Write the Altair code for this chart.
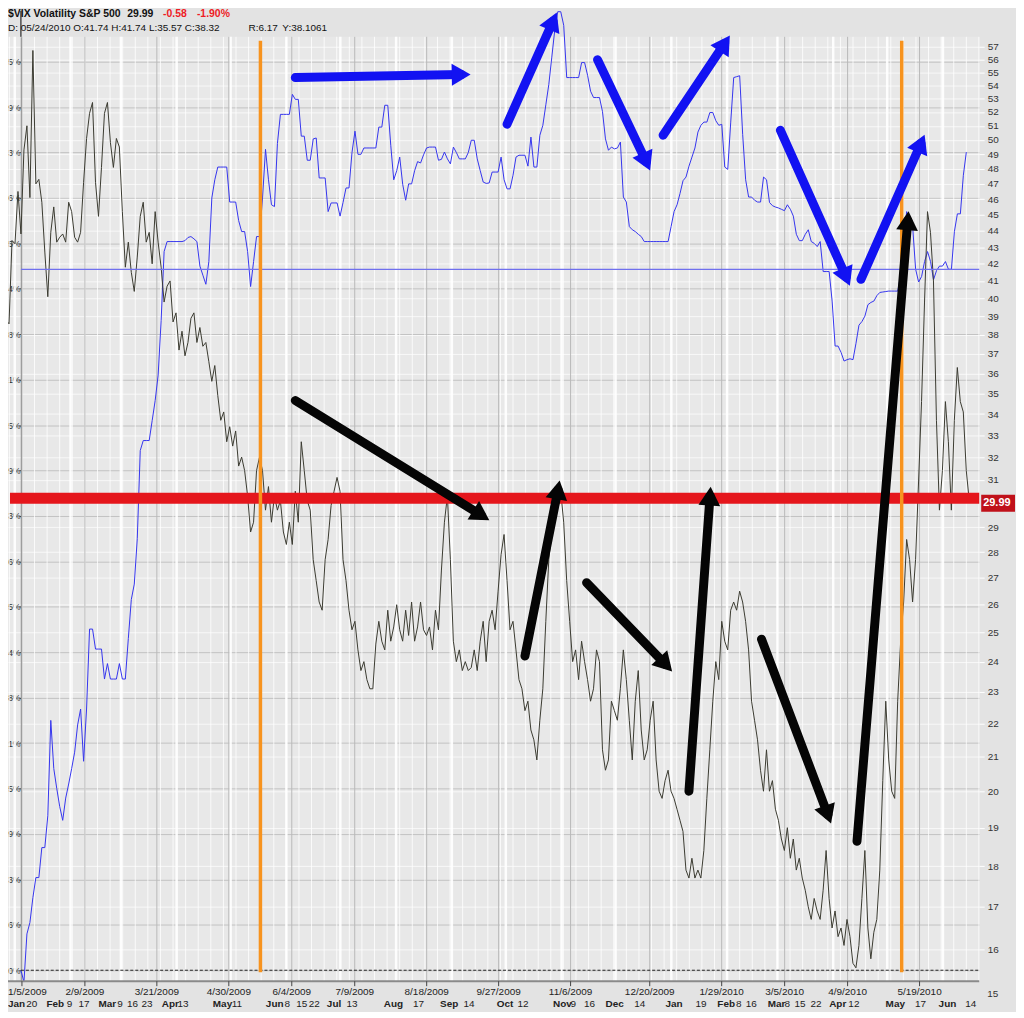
import altair as alt
import pandas as pd

W, H = 977, 950

# ---------------- data ----------------
# VIX daily close line (black), evenly sampled between these two timestamps
VIX_START, VIX_END = "2008-12-27 04:00", "2010-06-15 15:00"
VIX = [38.8, 38.6, 43.4, 43.2, 46.5, 43.8, 49.3, 51.0, 46.1, 56.7, 47.0, 47.3, 45.8, 42.7, 40.1, 43.9,
       45.5, 43.3, 43.6, 43.8, 43.3, 45.8, 45.2, 43.6, 43.3, 43.9, 47.1, 50.1, 51.9, 52.7, 47.1, 44.9,
       48.1, 51.9, 52.7, 49.8, 48.1, 50.1, 49.5, 45.2, 41.8, 43.3, 41.5, 40.4, 42.4, 44.9, 45.8, 43.3,
       43.9, 42.0, 45.2, 43.3, 41.8, 39.8, 40.7, 41.0, 38.7, 39.2, 37.2, 38.2, 36.9, 37.6, 38.9, 39.2,
       37.6, 38.4, 37.4, 37.6, 36.6, 35.6, 36.4, 34.9, 33.7, 34.1, 32.7, 33.4, 32.5, 33.2, 31.6, 32.0,
       31.4, 30.3, 28.8, 29.2, 31.4, 32.0, 31.4, 29.7, 30.7, 29.2, 30.3, 29.7, 30.1, 28.8, 28.3, 29.2,
       28.3, 30.5, 29.2, 32.7, 31.4, 30.1, 29.7, 27.7, 26.9, 26.1, 25.8, 27.7, 28.5, 29.9, 30.5, 31.1,
       30.5, 27.7, 26.9, 25.8, 25.1, 25.4, 24.4, 23.7, 24.0, 23.4, 23.1, 23.1, 24.6, 25.4, 24.7, 24.4,
       25.8, 24.7, 25.2, 26.0, 25.1, 24.7, 25.8, 24.9, 26.1, 24.7, 25.2, 26.1, 25.1, 24.9, 25.2, 24.4,
       25.8, 25.1, 27.3, 29.2, 30.3, 27.7, 24.7, 24.0, 24.4, 23.7, 24.0, 23.7, 23.8, 24.4, 23.7, 24.7,
       25.4, 24.0, 25.4, 25.8, 25.1, 26.5, 27.9, 28.7, 26.9, 25.1, 25.4, 24.4, 23.4, 23.1, 22.4, 22.7,
       21.8, 21.5, 20.9, 22.1, 23.1, 25.4, 27.7, 28.8, 29.2, 29.9, 30.5, 29.2, 26.9, 25.4, 24.0, 24.4,
       23.4, 24.7, 24.0, 23.4, 22.7, 23.1, 24.4, 24.0, 21.2, 20.6, 20.9, 22.7, 22.4, 22.1, 23.1, 24.4,
       23.4, 22.1, 20.9, 22.7, 23.7, 21.8, 20.9, 21.2, 22.1, 22.7, 20.9, 20.0, 19.8, 20.3, 20.6, 20.0,
       19.8, 19.5, 19.2, 18.9, 17.9, 17.7, 18.2, 17.7, 17.9, 17.7, 18.4, 19.8, 21.2, 22.7, 24.0, 23.4,
       25.4, 24.7, 24.4, 25.8, 26.1, 25.8, 26.5, 26.1, 25.4, 24.4, 22.7, 22.1, 21.5, 20.6, 20.0, 21.2,
       20.0, 20.3, 19.5, 19.2, 18.7, 18.4, 19.0, 18.2, 18.7, 17.9, 18.2, 17.7, 17.4, 17.0, 16.7, 17.2,
       16.9, 16.7, 17.4, 18.4, 17.2, 16.5, 16.9, 16.3, 16.5, 16.1, 16.7, 16.3, 15.7, 15.6, 16.1, 17.2,
       18.4, 16.5, 15.8, 16.4, 16.7, 17.9, 20.3, 22.7, 20.9, 20.0, 19.8, 22.7, 24.7, 26.1, 28.5, 27.7,
       26.1, 27.7, 30.9, 34.6, 39.8, 45.2, 43.9, 41.0, 33.7, 29.7, 31.4, 34.6, 32.7, 29.7, 33.7, 36.3,
       34.6, 34.1, 31.4, 30.1]

# comparison line (blue, left percent axis), in left-axis tick steps
BLUE_START, BLUE_END = "2009-01-04 11:00", "2010-06-14 00:00"
BLUE = [0.0, -0.26, 0.8, 1.05, 1.6, 2.04, 2.04, 2.7, 2.7, 3.4, 5.5, 4.44, 4.0, 3.6, 3.3, 3.79,
        4.1, 4.44, 4.8, 5.4, 5.75, 4.6, 5.75, 7.51, 7.51, 7.07, 7.07, 7.07, 6.41, 6.75, 6.41, 6.41,
        6.41, 6.75, 6.41, 6.41, 7.3, 8.16, 8.5, 9.5, 11.44, 11.66, 11.66, 11.66, 12.1, 12.54, 13.1, 14.3,
        15.82, 16.04, 16.04, 16.04, 16.04, 16.04, 16.04, 16.06, 16.13, 16.15, 16.1, 16.04, 15.5, 15.3, 15.1, 15.6,
        17.0, 17.4, 17.68, 17.68, 17.68, 17.68, 16.91, 16.91, 16.91, 16.5, 16.26, 16.26, 15.82, 15.05, 15.6, 16.15,
        16.15, 17.0, 18.07, 17.4, 16.85, 16.81, 18.2, 18.84, 18.84, 18.84, 18.84, 19.28, 19.17, 19.17, 18.36, 18.36,
        17.83, 17.83, 18.3, 18.32, 17.44, 17.44, 17.44, 16.7, 16.89, 16.89, 16.89, 16.6, 16.9, 17.22, 17.22, 18.0,
        18.47, 17.96, 17.96, 18.1, 18.1, 18.1, 18.1, 18.1, 18.56, 18.56, 19.04, 19.04, 18.16, 17.4, 17.6, 17.9,
        17.3, 16.95, 17.31, 17.31, 17.6, 17.8, 17.77, 17.95, 18.1, 18.12, 18.12, 18.12, 17.83, 17.85, 18.01, 17.86,
        17.75, 18.12, 18.0, 17.86, 17.86, 17.86, 18.0, 18.27, 18.27, 17.86, 17.6, 17.35, 17.32, 17.33, 17.57, 17.57,
        17.57, 17.9, 17.4, 17.2, 17.2, 17.5, 17.9, 17.94, 17.94, 17.94, 17.7, 18.34, 17.68, 17.68, 18.38, 18.6,
        19.05, 19.5, 20.1, 20.7, 21.1, 21.1, 20.8, 19.65, 19.65, 19.65, 19.65, 19.65, 19.98, 19.98, 19.7, 19.35,
        19.21, 19.21, 19.21, 18.9, 18.3, 18.05, 18.12, 18.08, 18.1, 18.23, 17.02, 16.91, 16.37, 16.3, 16.26, 16.2,
        16.15, 16.04, 16.04, 16.04, 16.04, 16.04, 16.04, 16.04, 16.04, 16.04, 16.37, 16.7, 16.85, 17.1, 17.38, 17.46,
        17.7, 17.9, 18.1, 18.45, 18.6, 18.67, 18.67, 18.88, 18.88, 18.7, 18.6, 18.62, 17.68, 17.63, 18.67, 19.65,
        19.67, 19.69, 18.4, 17.4, 17.02, 17.02, 16.95, 16.91, 16.91, 17.46, 17.4, 16.9, 16.83, 16.8, 16.78, 16.75,
        16.72, 16.85, 16.75, 16.6, 16.2, 16.06, 16.06, 16.2, 16.3, 16.04, 16.0, 15.93, 16.04, 15.38, 15.38, 15.38,
        14.73, 13.74, 13.74, 13.6, 13.41, 13.44, 13.46, 13.44, 13.8, 14.2, 14.28, 14.4, 14.65, 14.7, 14.73, 14.85,
        14.92, 14.93, 14.94, 14.95, 14.95, 14.95, 14.95, 15.3, 16.1, 16.7, 16.37, 16.37, 15.43, 15.15, 15.27, 15.6,
        15.82, 15.6, 15.2, 15.4, 15.5, 15.5, 15.6, 15.43, 15.43, 16.26, 16.65, 16.65, 17.5, 18.01]

LEFT_TICK_LABELS = ["0%", "6%", "3%", "9%", "5%", "1%", "8%", "4%", "5%", "6%", "3%",
                    "9%", "5%", "1%", "8%", "4%", "5%", "6%", "3%", "9%", "5%"]
RIGHT_TICKS = [16, 17, 18, 19, 20, 21, 22, 23, 24, 25, 26, 27, 28, 29, 31, 32, 33, 34, 35, 36,
               37, 38, 39, 40, 41, 42, 43, 44, 45, 46, 47, 48, 49, 50, 51, 52, 53, 54, 55, 56, 57]
MAJOR_LABELS = ["1/5/2009", "2/9/2009", "3/21/2009", "4/30/2009", "6/4/2009", "7/9/2009",
                "8/18/2009", "9/27/2009", "11/6/2009", "12/20/2009", "1/29/2010", "3/5/2010",
                "4/9/2010", "5/19/2010"]
ROW2_TEXT = ["Jan", "20", "Feb", "9", "17", "Mar", "9", "16", "23", "Apr", "13", "May", "11", "Jun", "8",
             "15", "22", "Jul", "13", "Aug", "17", "Sep", "14", "Oct", "12", "Nov", "9", "16", "Dec", "14",
             "Jan", "19", "Feb", "8", "16", "Mar", "8", "15", "22", "Apr", "12", "May", "17", "Jun", "14"]
ROW2_DATE = ["2008-12-30", "2009-01-10", "2009-01-23", "2009-01-31", "2009-02-08", "2009-02-21",
             "2009-02-28", "2009-03-07", "2009-03-15", "2009-03-28", "2009-04-04", "2009-04-26",
             "2009-05-04", "2009-05-25", "2009-06-01", "2009-06-09", "2009-06-16", "2009-06-27",
             "2009-07-07", "2009-07-30", "2009-08-13", "2009-08-30", "2009-09-10", "2009-09-30",
             "2009-10-10", "2009-11-01", "2009-11-07", "2009-11-16", "2009-11-30", "2009-12-14",
             "2010-01-02", "2010-01-17", "2010-01-31", "2010-02-07", "2010-02-14", "2010-02-28",
             "2010-03-06", "2010-03-13", "2010-03-22", "2010-04-03", "2010-04-12", "2010-05-05",
             "2010-05-19", "2010-06-03", "2010-06-16"]

ORANGE_DATES = ["2009-05-17T14:00", "2010-05-09T02:00"]
RED_LEVEL = 30.2
BLUE_LEVEL = 15.43
LAST_VALUE = 29.99

# hand-drawn arrows (tail -> head), on the VIX scale
ARROW_KIND = ["blue"] * 6 + ["black"] * 6
TAIL_DATE = ["2009-06-05T23:00", "2009-10-01T16:00", "2009-11-20T23:00", "2009-12-27T10:00",
             "2010-03-02T15:00", "2010-04-16T10:00", "2009-06-05T23:00", "2009-10-11T15:00",
             "2009-11-14T21:00", "2010-01-10T19:00", "2010-02-20T03:00", "2010-04-14T05:00"]
TAIL_VIX = [54.58, 51.11, 55.97, 50.33, 50.68, 41.09, 34.65, 24.19, 26.82, 20.0, 24.77, 18.64]
HEAD_DATE = ["2009-09-06T04:00", "2009-10-27T06:00", "2009-12-18T02:00", "2010-01-30T16:00",
             "2010-04-08T05:00", "2010-05-19T18:00", "2009-09-17T09:00", "2009-10-30T00:00",
             "2009-12-28T21:00", "2010-01-22T12:00", "2010-03-29T00:00", "2010-05-12T11:00"]
HEAD_VIX = [54.81, 59.09, 48.48, 57.27, 41.22, 49.75, 29.49, 30.56, 23.90, 30.29, 19.35, 44.63]
HEAD_ANGLE = [89, 23, 156, 33, 157, 23, 122, 10, 137, 4, 160, 4.5]

# ---------------- frames ----------------
vix_df = pd.DataFrame({"date": pd.date_range(VIX_START, VIX_END, periods=len(VIX)), "vix": VIX})
blue_df = pd.DataFrame({"date": pd.date_range(BLUE_START, BLUE_END, periods=len(BLUE)), "pct": BLUE})
arrow_df = pd.DataFrame({"kind": ARROW_KIND, "t": pd.to_datetime(TAIL_DATE), "tv": TAIL_VIX,
                         "h": pd.to_datetime(HEAD_DATE), "hv": HEAD_VIX, "ang": HEAD_ANGLE})
row2_df = pd.DataFrame({"txt": ROW2_TEXT, "date": pd.to_datetime(ROW2_DATE) + pd.Timedelta(hours=12)})
row2_df["bold"] = row2_df["txt"].str.isalpha()
major_df = pd.DataFrame({"txt": MAJOR_LABELS, "date": pd.to_datetime(MAJOR_LABELS, format="%m/%d/%Y")})
week_df = pd.DataFrame({"date": pd.date_range("2008-12-29", "2010-06-21", freq="W-MON")})
month_df = pd.DataFrame({"date": pd.date_range("2009-01-01", "2010-06-01", freq="MS")})
orange_df = pd.DataFrame({"date": pd.to_datetime(ORANGE_DATES)})

XS = alt.Scale(domain=[alt.DateTime(year=2008, month=12, date=28, hours=6),
                       alt.DateTime(year=2010, month=6, date=21, hours=4)], nice=False)
VS = alt.Scale(type="log", domain=[15.31, 57.8], nice=False)
BS = alt.Scale(domain=[-0.241, 20.547], nice=False, zero=False)
FONT = "Liberation Sans"
AX = 13  # left axis line position inside the plot

def xnone(field="date:T"):
    return alt.X(field, scale=XS, axis=None)

# grid lines
weeks = alt.Chart(week_df).mark_rule(color="#ffffff", strokeWidth=1, opacity=0.8).encode(x=xnone())
months = alt.Chart(month_df).mark_rule(color="#ffffff", strokeWidth=2.5, opacity=0.9).encode(x=xnone())
major_grid = alt.Chart(major_df).mark_rule(color="#b8b8b8", strokeWidth=1).encode(x=xnone())

# blue line with left axis
left_labels = "[" + ",".join("'%s'" % s for s in LEFT_TICK_LABELS) + "][datum.value]"
blue_line = alt.Chart(blue_df).mark_line(color="#3434ee", strokeWidth=1).encode(
    x=xnone(),
    y=alt.Y("pct:Q", scale=BS, axis=alt.Axis(
        orient="left", offset=-AX, values=list(range(21)), labelExpr=left_labels, title=None,
        domainColor="#000000", domainWidth=1, tickColor="#555555", tickSize=2, labelPadding=-1,
        labelFontSize=8.5, labelColor="#333333", labelFont=FONT,
        grid=True, gridColor="#c2c2c2", gridWidth=1)),
)

# VIX line with right axis
vix_line = alt.Chart(vix_df).mark_line(color="#3a3a30", strokeWidth=1).encode(
    x=xnone(),
    y=alt.Y("vix:Q", scale=VS, axis=alt.Axis(
        orient="right", values=RIGHT_TICKS, title=None, domain=False, tickColor="#ffffff",
        tickSize=5, labelPadding=3, labelFontSize=10, labelColor="#333333", labelFont=FONT,
        grid=True, gridColor="#ffffff", gridWidth=1, gridOpacity=0.7, labelOverlap=False)),
)

# bottom date axis (drawn by hand: domain, ticks, labels)
x_domain = alt.Chart(pd.DataFrame({"a": [0]})).mark_rule(color="#8a8a8a", strokeWidth=2).encode(
    x=alt.value(0), x2=alt.value(W), y=alt.value(H))
x_ticks = alt.Chart(major_df).mark_rule(color="#444444", strokeWidth=1).encode(
    x=xnone(), y=alt.value(H), y2=alt.value(H + 5))
x_label_first = alt.Chart(major_df.iloc[:1]).mark_text(
    baseline="middle", align="left", dx=-14, fontSize=10, color="#222222", font=FONT).encode(
    x=xnone(), y=alt.value(H + 11), text="txt:N")
x_labels = alt.Chart(major_df.iloc[1:]).mark_text(
    baseline="middle", fontSize=10, color="#222222", font=FONT).encode(
    x=xnone(), y=alt.value(H + 11), text="txt:N")

blue_level = alt.Chart(pd.DataFrame({"v": [BLUE_LEVEL]})).mark_rule(color="#7070ee", strokeWidth=1.3).encode(
    y=alt.Y("v:Q", scale=BS, axis=None), x=alt.value(AX), x2=alt.value(W))
zero_line = alt.Chart(pd.DataFrame({"v": [0.0]})).mark_rule(color="#222222", strokeWidth=1, strokeDash=[3, 2]).encode(
    y=alt.Y("v:Q", scale=BS, axis=None), x=alt.value(AX), x2=alt.value(W))

red_band = alt.Chart(pd.DataFrame({"v": [RED_LEVEL]})).mark_rule(color="#e5161c", strokeWidth=11).encode(
    y=alt.Y("v:Q", scale=VS, axis=None), x=alt.value(2), x2=alt.value(W))

orange = alt.Chart(orange_df).mark_rule(color="#f7931e", strokeWidth=3.5).encode(
    x=xnone(), y=alt.value(4), y2=alt.value(941))

axis_top = alt.Chart(pd.DataFrame({"a": [0]})).mark_rule(color="#000000", strokeWidth=1).encode(
    x=alt.value(AX), y=alt.value(-26), y2=alt.value(0))

arrow_colors = alt.Scale(domain=["blue", "black"], range=["#1212f2", "#050505"])
shafts = alt.Chart(arrow_df).mark_rule(strokeWidth=9, strokeCap="round").encode(
    x=xnone("t:T"), x2="h:T",
    y=alt.Y("tv:Q", scale=VS, axis=None), y2="hv:Q",
    color=alt.Color("kind:N", scale=arrow_colors, legend=None))
heads = alt.Chart(arrow_df).mark_point(shape="triangle-up", filled=True, size=480, opacity=1).encode(
    x=xnone("h:T"), y=alt.Y("hv:Q", scale=VS, axis=None),
    angle=alt.Angle("ang:Q", scale=None),
    color=alt.Color("kind:N", scale=arrow_colors, legend=None))

# last value box on the right axis
last_df = pd.DataFrame({"v": [LAST_VALUE], "hi": [LAST_VALUE * 1.012], "lo": [LAST_VALUE / 1.012],
                        "txt": ["%.2f" % LAST_VALUE]})
last_box = alt.Chart(last_df).mark_rect(color="#c0111a").encode(
    y=alt.Y("hi:Q", scale=VS, axis=None), y2="lo:Q", x=alt.value(W + 2), x2=alt.value(W + 36))
last_txt = alt.Chart(last_df).mark_text(align="left", baseline="middle", color="#ffffff",
                                        fontWeight="bold", fontSize=11, font=FONT).encode(
    y=alt.Y("v:Q", scale=VS, axis=None), x=alt.value(W + 4), text="txt:N")
fifteen = alt.Chart(pd.DataFrame({"t": ["15"]})).mark_text(
    align="left", baseline="middle", fontSize=10, color="#333333", font=FONT).encode(
    text="t:N", x=alt.value(W + 8), y=alt.value(H + 13))

# second row of date labels
row2_first = alt.Chart(row2_df.iloc[:1]).mark_text(
    baseline="middle", align="left", dx=-4, fontSize=10, fontWeight="bold", color="#222222", font=FONT).encode(
    x=xnone(), y=alt.value(H + 23), text="txt:N")
row2_bold = alt.Chart(row2_df.iloc[1:][row2_df["bold"].iloc[1:]]).mark_text(
    baseline="middle", fontSize=10, fontWeight="bold", color="#222222", font=FONT).encode(
    x=xnone(), y=alt.value(H + 23), text="txt:N")
row2_norm = alt.Chart(row2_df[~row2_df["bold"]]).mark_text(
    baseline="middle", fontSize=10, color="#222222", font=FONT).encode(
    x=xnone(), y=alt.value(H + 23), text="txt:N")

# header
def htext(t, x, y, color="#111111", bold=True, size=10.5):
    return alt.Chart(pd.DataFrame({"t": [t]})).mark_text(
        align="left", baseline="middle", fontSize=size, color=color,
        fontWeight="bold" if bold else "normal", font=FONT).encode(
        text="t:N", x=alt.value(x), y=alt.value(y))

header = [
    htext("$VIX Volatility S&P 500", 0, -23),
    htext("29.99", 120, -23),
    htext("-0.58", 156, -23, color="#ee1c25"),
    htext("-1.90%", 190, -23, color="#ee1c25"),
    htext("D: 05/24/2010 O:41.74 H:41.74 L:35.57 C:38.32", 0, -9, bold=False, size=10),
    htext("R:6.17", 242, -9, bold=False, size=10),
    htext("Y:38.1061", 276, -9, bold=False, size=10),
]

chart = alt.layer(
    weeks, months, major_grid, blue_line, vix_line, x_domain, x_ticks, x_label_first, x_labels,
    blue_level, zero_line, red_band, orange, axis_top,
    shafts, heads, last_box, last_txt, fifteen, row2_first, row2_bold, row2_norm, *header,
).resolve_scale(y="independent").properties(
    width=W, height=H,
    autosize=alt.AutoSizeParams(type="none"),
    padding={"left": 0, "top": 26, "right": 37, "bottom": 28},
    background="#e3e3e3",
).configure_view(fill="#e8e8e8", strokeWidth=0)

chart.save("out.html", embed_options={"renderer": "svg", "actions": False})
